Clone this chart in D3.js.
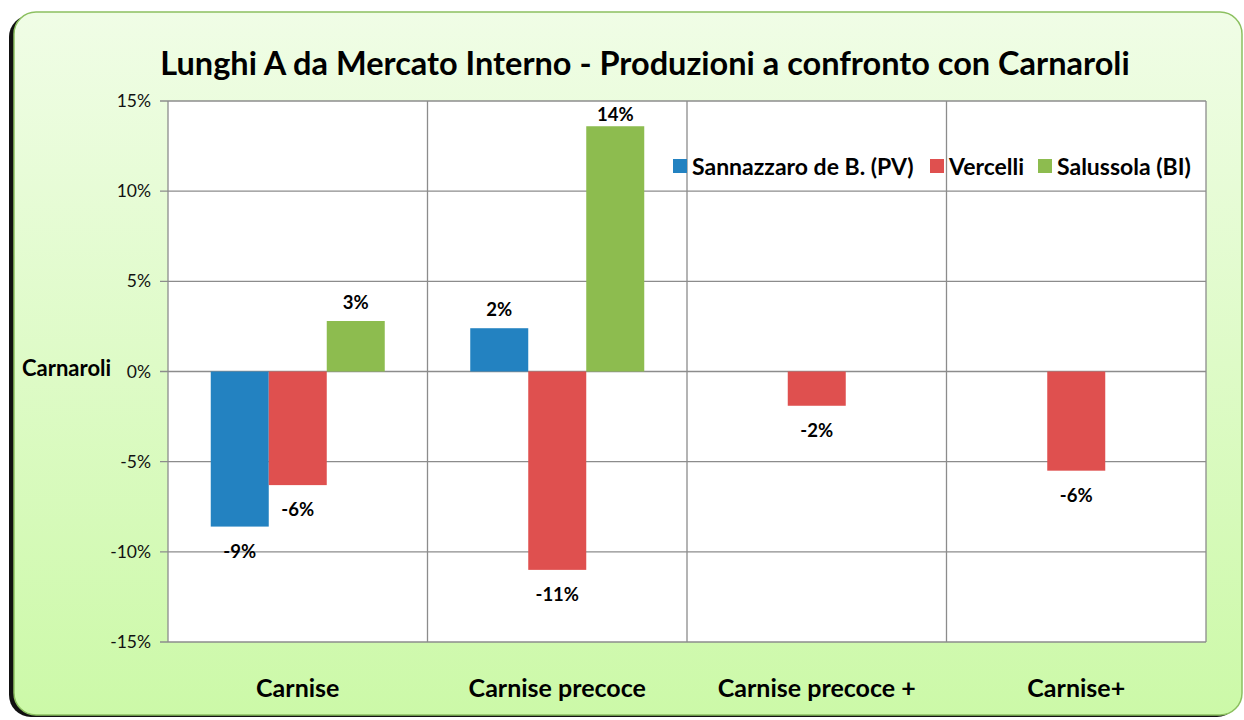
<!DOCTYPE html>
<html>
<head>
<meta charset="utf-8">
<script src="https://cdn.jsdelivr.net/npm/d3@7"></script>
<style>
  body { margin: 0; background: #fff; }
  text { font-family: Lato, "Open Sans", sans-serif; }
</style>
</head>
<body>
<svg id="MyGraph" width="1244" height="720"></svg>
<script>
// dati
var categories = ["Carnise", "Carnise precoce", "Carnise precoce +", "Carnise+"];
var seriesNames = ["Sannazzaro de B. (PV)", "Vercelli", "Salussola (BI)"];
var sannazzaro = [-8.6, 2.4, null, null];
var vercelli = [-6.3, -11.0, -1.9, -5.5];
var salussola = [2.8, 13.6, null, null];
var yTicks = [-15, -10, -5, 0, 5, 10, 15];
var colors = ["#2382c1", "#df504f", "#8dbc4f"];

var svg = d3.select("#MyGraph");

// sfondo del grafico
var defs = svg.append("defs");
var grad = defs.append("linearGradient").attr("id", "bg").attr("x1", 0).attr("y1", 0).attr("x2", 0).attr("y2", 1);
grad.append("stop").attr("offset", "0%").attr("stop-color", "#f0fde6");
grad.append("stop").attr("offset", "100%").attr("stop-color", "#ccf9a8");

svg.append("rect")
    .attr("x", 9).attr("y", 15).attr("width", 1230).attr("height", 702)
    .attr("rx", 22).attr("fill", "#111");
svg.append("rect")
    .attr("x", 14).attr("y", 12).attr("width", 1228).attr("height", 703)
    .attr("rx", 22).attr("fill", "url(#bg)")
    .attr("stroke", "#8cc060").attr("stroke-width", 1.5);

var margin = {top: 101, left: 168, right: 1206, bottom: 642};

var x = d3.scaleBand()
    .domain(categories)
    .range([margin.left, margin.right]);

var y = d3.scaleLinear()
    .domain([-15, 15])
    .range([margin.bottom, margin.top]);

// area del grafico
svg.append("rect")
    .attr("x", margin.left).attr("y", margin.top)
    .attr("width", margin.right - margin.left).attr("height", margin.bottom - margin.top)
    .attr("fill", "#fff");

// griglia orizzontale
svg.append("g")
    .selectAll("line")
    .data(yTicks)
    .enter().append("line")
    .attr("x1", margin.left - 8).attr("x2", margin.right)
    .attr("y1", function(d){ return y(d); }).attr("y2", function(d){ return y(d); })
    .attr("stroke", "#8c8c8c").attr("stroke-width", 1.3);

// divisori verticali
svg.append("g")
    .selectAll("line")
    .data(categories)
    .enter().append("line")
    .attr("x1", function(d){ return x(d) + x.bandwidth(); })
    .attr("x2", function(d){ return x(d) + x.bandwidth(); })
    .attr("y1", margin.top).attr("y2", margin.bottom)
    .attr("stroke", "#8c8c8c").attr("stroke-width", 1.3);

svg.append("line")
    .attr("x1", margin.left).attr("x2", margin.left)
    .attr("y1", margin.top).attr("y2", margin.bottom)
    .attr("stroke", "#8c8c8c").attr("stroke-width", 1.3);

// etichette asse Y
svg.append("g")
    .selectAll("text")
    .data(yTicks)
    .enter().append("text")
    .attr("x", margin.left - 17)
    .attr("y", function(d){ return y(d) + 6; })
    .attr("text-anchor", "end")
    .attr("font-size", 17.5)
    .attr("fill", "#111")
    .text(function(d){ return d + "%"; });

svg.append("text")
    .attr("x", 22).attr("y", 376)
    .attr("font-size", 22).attr("font-weight", "bold")
    .text("Carnaroli");

// etichette categorie
svg.append("g")
    .selectAll("text")
    .data(categories)
    .enter().append("text")
    .attr("x", function(d){ return x(d) + x.bandwidth() / 2; })
    .attr("y", 697)
    .attr("text-anchor", "middle")
    .attr("font-size", 25).attr("font-weight", "bold")
    .text(function(d){ return d; });

// barre
var allSeries = [sannazzaro, vercelli, salussola];
var bars = [];
categories.forEach(function(c, i){
  var present = [];
  allSeries.forEach(function(s, j){ if (s[i] != null) present.push(j); });
  var half = 29 * present.length;
  var inner = d3.scaleBand()
      .domain(present)
      .range([x.bandwidth() / 2 - half, x.bandwidth() / 2 + half]);
  present.forEach(function(j){
    bars.push({cat: c, s: j, v: allSeries[j][i], x: x(c) + inner(j), w: inner.bandwidth()});
  });
});

var fmt = function(v){
  var r = Math.sign(v) * Math.round(Math.abs(v));
  return r + "%";
};

svg.append("g")
    .selectAll("rect")
    .data(bars)
    .enter().append("rect")
    .attr("x", function(d){ return d.x; })
    .attr("width", function(d){ return d.w; })
    .attr("y", function(d){ return y(Math.max(0, d.v)); })
    .attr("height", function(d){ return Math.abs(y(d.v) - y(0)); })
    .attr("fill", function(d){ return colors[d.s]; });

svg.append("g")
    .selectAll("text")
    .data(bars)
    .enter().append("text")
    .attr("x", function(d){ return d.x + d.w / 2; })
    .attr("y", function(d){
      return d.v >= 0 ? Math.max(y(d.v) - 12, margin.top + 20) : y(d.v) + 31;
    })
    .attr("text-anchor", "middle")
    .attr("font-size", 18.5).attr("font-weight", "bold")
    .text(function(d){ return fmt(d.v); });

// titolo
svg.append("text")
    .attr("x", 645).attr("y", 75)
    .attr("text-anchor", "middle")
    .attr("font-size", 32.5).attr("font-weight", "bold")
    .text("Lunghi A da Mercato Interno - Produzioni a confronto con Carnaroli");

// legenda
var legX = [673, 930, 1038];
var leg = svg.append("g")
    .selectAll("g")
    .data(seriesNames)
    .enter().append("g")
    .attr("transform", function(d, i){ return "translate(" + legX[i] + ",159)"; });
leg.append("rect")
    .attr("width", 14).attr("height", 14)
    .attr("fill", function(d, i){ return colors[i]; });
leg.append("text")
    .attr("x", 19).attr("y", 16)
    .attr("font-size", 23).attr("font-weight", "bold")
    .text(function(d){ return d; });
</script>
</body>
</html>
